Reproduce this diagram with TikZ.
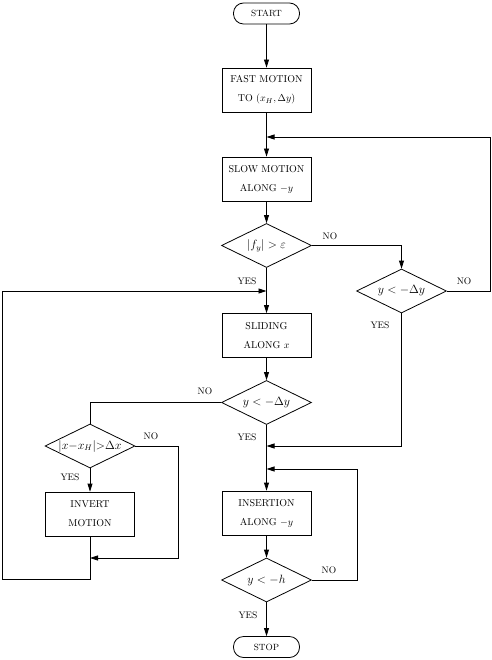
\documentclass[tikz,border=0pt]{standalone}
\usetikzlibrary{shapes.geometric,arrows.meta}
\begin{document}
\begin{tikzpicture}[x=1pt,y=-1pt,
  every path/.style={line width=0.8pt},
  arr/.style={-{Triangle[length=8pt,width=5pt]}},
  term/.style={draw,rectangle,rounded corners=10pt,minimum width=66pt,minimum height=21pt,inner sep=0pt,font=\fontsize{9}{10}\selectfont},
  proc/.style={draw,rectangle,minimum width=89pt,minimum height=44pt,inner sep=0pt,align=center,font=\fontsize{10}{19}\selectfont},
  dec/.style={draw,diamond,minimum width=90pt,minimum height=44pt,inner sep=0pt},
  dtext/.style={inner sep=0pt,font=\fontsize{12}{13}\selectfont},
  lbl/.style={inner sep=0pt,font=\fontsize{9.5}{10}\selectfont}]
\useasboundingbox (0,0) rectangle (491,660);
% nodes
\node[term] (start) at (266.5,13.5) {START};
\node[proc] (fast) at (266.5,90) {FAST MOTION\\TO $(x_H,\Delta y)$};
\node[proc] (slow) at (266.5,179) {SLOW MOTION\\ALONG $-y$};
\node[dec] (d1) at (266.5,245.5) {};
\node[dtext] (t1) at (d1) {$|f_y|>\varepsilon$};
\node[dec] (d2) at (401.5,291) {};
\node[dtext] (t2) at (d2) {$y<-\Delta y$};
\node[proc] (slide) at (266.5,335.5) {SLIDING\\ALONG $x$};
\node[dec] (d3) at (266.5,402.5) {};
\node[dtext] (t3) at (d3) {$y<-\Delta y$};
\node[dec] (d4) at (90,446) {};
\node[dtext,font=\fontsize{11.5}{12}\selectfont] (t4) at (d4) {$|x{-}x_H|{>}\Delta x$};
\node[proc] (inv) at (90,514) {INVERT\\MOTION};
\node[proc] (ins) at (266.5,513) {INSERTION\\ALONG $-y$};
\node[dec] (d5) at (266.5,580) {};
\node[dtext] (t5) at (d5) {$y<-h$};
\node[term] (stop) at (266.5,647) {STOP};
% junction coordinates
\coordinate (j1) at (266.5,137);
\coordinate (j2) at (266.5,291);
\coordinate (j3) at (266.5,446);
\coordinate (j4) at (266.5,469);
\coordinate (j5) at (90,558);
% main flow
\draw[arr] (start.south) -- (fast.north);
\draw[arr] (fast.south) -- (slow.north);
\draw[arr] (slow.south) -- (d1.north);
\draw[arr] (d1.south) -- (slide.north);
\draw[arr] (slide.south) -- (d3.north);
\draw[arr] (d3.south) -- (ins.north);
\draw[arr] (ins.south) -- (d5.north);
\draw[arr] (d5.south) -- (stop.north);
% branches
\draw[arr] (d1.east) -| (d2.north);
\draw[arr] (d2.east) -- (490,291) -- (490,137) -- (j1);
\draw[arr] (d2.south) |- (j3);
\draw (d3.west) -| (d4.north);
\draw[arr] (d4.south) -- (inv.north);
\draw[arr] (d4.east) -- (178,446) -- (178,558) -- (j5);
\draw[arr] (inv.south) -- (90,579) -- (2,579) -- (2,291) -- (j2);
\draw[arr] (d5.east) -- (357,580) -- (357,469) -- (j4);
% labels
\node[lbl] (n1) at (330,236) {NO};
\node[lbl] (y1) at (247,281) {YES};
\node[lbl] (n2) at (464,281) {NO};
\node[lbl] (y2) at (380,325) {YES};
\node[lbl] (n3) at (205,391) {NO};
\node[lbl] (y3) at (247,437) {YES};
\node[lbl] (n4) at (151,436) {NO};
\node[lbl] (y4) at (70,477) {YES};
\node[lbl] (n5) at (329,570) {NO};
\node[lbl] (y5) at (248,615) {YES};
\end{tikzpicture}
\end{document}
